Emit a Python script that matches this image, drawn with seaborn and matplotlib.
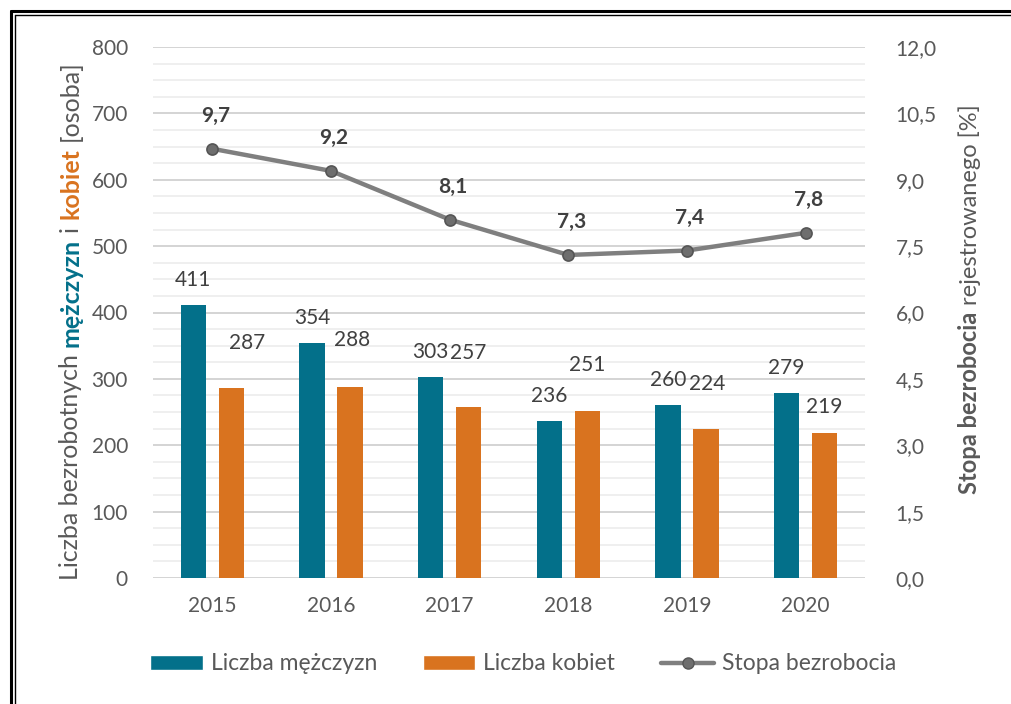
import numpy as np
import pandas as pd
import matplotlib
matplotlib.use("Agg")
import matplotlib.pyplot as plt
from matplotlib.patches import Patch
from matplotlib.lines import Line2D
from matplotlib.ticker import FuncFormatter
import seaborn as sns

# data
lata = ["2015", "2016", "2017", "2018", "2019", "2020"]
mezczyzni = [411, 354, 303, 236, 260, 279]
kobiety = [287, 288, 257, 251, 224, 219]
stopa = [9.7, 9.2, 8.1, 7.3, 7.4, 7.8]
serie = ["Liczba mężczyzn", "Liczba kobiet"]

# label nudges (pixels) copied from the original layout
off_m = [(0, 25), (0, 25), (0, 25), (0, 25), (0, 25), (0, 25)]
off_k = [(16, 45), (2, 47), (0, 54), (0, 46), (1, 45), (0, 26)]

TEAL = "#03708a"
ORANGE = "#d9731f"
GRAY = "#7f7f7f"
TXT = "#595959"
FS = 15

sns.set_theme(style="white")
plt.rcParams["font.family"] = ["Lato", "DejaVu Sans"]

df = pd.DataFrame({
    "rok": lata * 2,
    "liczba": mezczyzni + kobiety,
    "seria": [serie[0]] * len(lata) + [serie[1]] * len(lata),
})

W, H = 1011, 704
fig = plt.figure(figsize=(W / 100, H / 100), dpi=100)
ax = fig.add_axes([153 / W, (H - 578) / H, 712 / W, 531 / H])

sns.barplot(data=df, x="rok", y="liczba", hue="seria", order=lata,
            hue_order=serie, palette=[TEAL, ORANGE], saturation=1,
            width=0.64, gap=0.34, linewidth=0, ax=ax, legend=False)

ax.set_ylim(0, 800)
ax.set_xlim(-0.5, len(lata) - 0.5)
ax.set_yticks(np.arange(0, 801, 100))
ax.set_yticks(np.arange(0, 801, 25), minor=True)
ax.grid(axis="y", which="major", color="#d4d4d4", lw=1.4)
ax.grid(axis="y", which="minor", color="#ececec", lw=1.2)
ax.set_axisbelow(True)
ax.tick_params(axis="y", which="both", length=0, pad=18, labelsize=FS, labelcolor=TXT)
ax.tick_params(axis="x", length=0, pad=13, labelsize=FS, labelcolor=TXT)
ax.set_xlabel("")
ax.set_ylabel("")
sns.despine(ax=ax, left=True, right=True, top=True, bottom=True)

# bar value labels
for cont, offs in zip(ax.containers, [off_m, off_k]):
    for bar, (dx, dy) in zip(cont.patches, offs):
        ax.annotate(f"{bar.get_height():.0f}",
                    (bar.get_x() + bar.get_width() / 2, bar.get_height()),
                    xytext=(dx, dy), textcoords="offset pixels",
                    ha="center", va="center", fontsize=FS, color="#404040")

# unemployment rate line
ax2 = ax.twinx()
sns.pointplot(x=lata, y=stopa, order=lata, color=GRAY, markers="o",
              markersize=8, linewidth=3.2, ax=ax2)
for ln in ax2.lines:
    ln.set_markerfacecolor("#6e6e6e")
    ln.set_markeredgecolor("#555555")
    ln.set_markeredgewidth(1.2)
ax2.set_xlim(-0.5, len(lata) - 0.5)
ax2.set_ylim(0, 12)
ax2.set_yticks(np.arange(0, 12.01, 1.5))
ax2.yaxis.set_major_formatter(FuncFormatter(lambda v, p: f"{v:.1f}".replace(".", ",")))
ax2.tick_params(axis="y", length=0, pad=22, labelsize=FS, labelcolor=TXT)
ax2.set_xlabel("")
ax2.set_ylabel("")
sns.despine(ax=ax2, left=True, right=True, top=True, bottom=True)

for i, v in enumerate(stopa):
    ax2.annotate(f"{v:.1f}".replace(".", ","), (i, v), xytext=(3, 33),
                 textcoords="offset pixels", ha="center", va="center",
                 fontsize=FS, fontweight="bold", color="#404040")


def stacked_label(parts, x, yc, fs):
    """vertical label built from differently styled pieces"""
    fig.canvas.draw()
    r = fig.canvas.get_renderer()
    gap = fs * 0.4
    texts = []
    for s, col, wt in parts:
        t = fig.text(0, 0, s, rotation=90, rotation_mode="anchor",
                     ha="left", va="baseline", fontsize=fs, color=col,
                     fontweight=wt, transform=None)
        texts.append(t)
    sizes = [t.get_window_extent(r).height for t in texts]
    total = sum(sizes) + gap * (len(sizes) - 1)
    y = yc - total / 2
    for t, s in zip(texts, sizes):
        t.set_position((x, y))
        y += s + gap


stacked_label([("Liczba bezrobotnych", TXT, "normal"),
               ("mężczyzn", TEAL, "bold"),
               ("i", TXT, "normal"),
               ("kobiet", ORANGE, "bold"),
               ("[osoba]", TXT, "normal")], 78, H - 320, 18)
stacked_label([("Stopa bezrobocia", TXT, "bold"),
               ("rejestrowanego [%]", TXT, "normal")], 977, H - 299, 17)

# legend
handles = [Patch(facecolor=TEAL), Patch(facecolor=ORANGE),
           Line2D([], [], color=GRAY, lw=3.2, marker="o", ms=8,
                  mfc="#6e6e6e", mec="#555555")]
fig.legend(handles, serie + ["Stopa bezrobocia"], loc="center",
           bbox_to_anchor=(523 / W, 1 - 664 / H), ncol=3, frameon=False,
           fontsize=16.5, labelcolor=TXT, handlelength=2.3, handleheight=0.6,
           handletextpad=0.35, columnspacing=2.0)

# double frame around the chart (top and left)
for pos, lw in [(11, 2.2), (15, 1.0)]:
    fig.add_artist(Line2D([pos / W, 1], [1 - pos / H, 1 - pos / H], color="black",
                          lw=lw, transform=fig.transFigure))
    fig.add_artist(Line2D([pos / W, pos / W], [0, 1 - pos / H], color="black",
                          lw=lw, transform=fig.transFigure))

fig.savefig("out.png", dpi=100, facecolor="white")
